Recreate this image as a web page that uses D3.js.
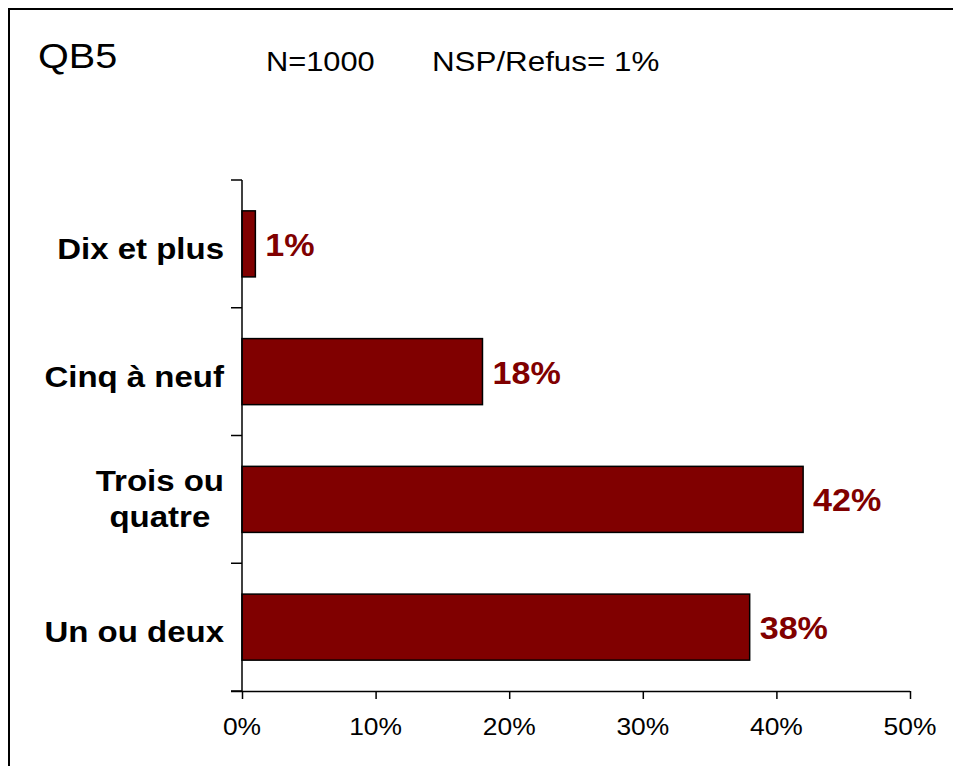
<!DOCTYPE html>
<html>
<head>
<meta charset="utf-8">
<script src="https://cdn.jsdelivr.net/npm/d3@7"></script>
<style>
  body { margin: 0; background: #fff; }
  svg { display: block; font-family: Arial, "Liberation Sans", sans-serif; }
</style>
</head>
<body>
<div id="graf"></div>
<script>
// datos del gráfico
var categorias = ['Dix et plus', 'Cinq à neuf', 'Trois ou quatre', 'Un ou deux']
var etiquetas = [['Dix et plus'], ['Cinq à neuf'], ['Trois ou', 'quatre'], ['Un ou deux']]
var valores = [1, 18, 42, 38]
var ticksX = [0, 10, 20, 30, 40, 50]
var titulo = 'QB5'
var subtitulos = ['N=1000', 'NSP/Refus= 1%']

var ancho_total = 953, alto_total = 766
var margins = { top: 180, left: 242, right: 43, bottom: 75 }
var ancho = ancho_total - margins.left - margins.right
var alto = alto_total - margins.top - margins.bottom
var sx = 1.1   // el texto original sale un poco ensanchado
var rojo = '#800000'

var svg = d3.select('#graf').append('svg')
  .attr('width', ancho_total)
  .attr('height', alto_total)

// marco exterior
svg.append('rect')
  .attr('x', 9).attr('y', 9)
  .attr('width', 1000).attr('height', 1000)
  .attr('fill', 'none')
  .attr('stroke', '#000')
  .attr('stroke-width', 2)

// texto con escala horizontal
function texto(sel, x, y, str) {
  return sel.append('g')
    .attr('transform', `translate(${x},${y}) scale(${sx},1)`)
    .append('text')
    .attr('fill', '#000')
    .text(str)
}

texto(svg, 38, 68, titulo).style('font-size', '36px')
texto(svg, 266, 71, subtitulos[0]).style('font-size', '28px')
texto(svg, 432, 71, subtitulos[1]).style('font-size', '28.5px')

var g = svg.append('g')
  .attr('transform', `translate(${margins.left}, ${margins.top})`)

var x = d3.scaleLinear().domain([0, 50]).range([0, ancho])
var y = d3.scaleBand()
  .domain(categorias)
  .range([0, alto])
  .paddingInner(0.483)
  .paddingOuter(0.2415)

// barras
g.selectAll('rect.barra')
  .data(valores)
  .enter()
  .append('rect')
    .attr('class', 'barra')
    .attr('x', x(0))
    .attr('y', (d, i) => y(categorias[i]))
    .attr('width', d => x(d) - x(0))
    .attr('height', y.bandwidth())
    .attr('fill', rojo)
    .attr('stroke', '#000')
    .attr('stroke-width', 1.5)

// etiquetas de valor
valores.forEach((d, i) => {
  texto(g, x(d) + 10, y(categorias[i]) + y.bandwidth() / 2 + 12, d + '%')
    .style('font-size', '31px')
    .style('font-weight', 'bold')
    .attr('fill', rojo)
})

// eje X
var xAxisCall = d3.axisBottom(x)
  .tickValues(ticksX)
  .tickSize(8)
  .tickSizeOuter(0)
  .tickFormat(d => d + '%')
var xAxisGroup = g.append('g')
  .attr('transform', `translate(0, ${alto})`)
  .call(xAxisCall)
xAxisGroup.select('.domain').attr('d', `M${-11},0.5H${x(50)}`).attr('stroke-width', 1.5)
xAxisGroup.selectAll('.tick line').attr('stroke-width', 1.5)
xAxisGroup.selectAll('.tick text').remove()
ticksX.forEach(t => {
  texto(xAxisGroup, x(t), 44, t + '%')
    .attr('text-anchor', 'middle')
    .style('font-size', '24px')
})

// eje Y: línea y marcas entre categorías
var yAxisGroup = g.append('g')
yAxisGroup.append('line')
  .attr('x1', 0).attr('x2', 0)
  .attr('y1', 0).attr('y2', alto)
  .attr('stroke', '#000').attr('stroke-width', 1.5)
d3.range(categorias.length + 1).forEach(k => {
  yAxisGroup.append('line')
    .attr('x1', -11).attr('x2', 0)
    .attr('y1', k * y.step()).attr('y2', k * y.step())
    .attr('stroke', '#000').attr('stroke-width', 1.5)
})

// etiquetas de categoría (centradas entre sí, alineadas a la derecha)
etiquetas.forEach((lineas, i) => {
  var cy = y(categorias[i]) + y.bandwidth() / 2
  var n = lineas.length
  var grupo = g.append('g')
    .attr('transform', `translate(-18, ${cy}) scale(${sx},1)`)
  var t = grupo.append('text')
    .style('font-size', '30px')
    .style('font-weight', 'bold')
    .attr('text-anchor', n > 1 ? 'middle' : 'end')
  lineas.forEach((l, j) => {
    t.append('tspan')
      .attr('x', 0)
      .attr('y', (n > 1 ? 10 : 15) + (j - (n - 1) / 2) * 36)
      .text(l)
  })
  if (n > 1) {
    // centrar el bloque y alinear su borde derecho
    var w = t.node().getBBox().width
    t.attr('transform', `translate(${-w / 2}, 0)`)
  }
})
</script>
</body>
</html>
